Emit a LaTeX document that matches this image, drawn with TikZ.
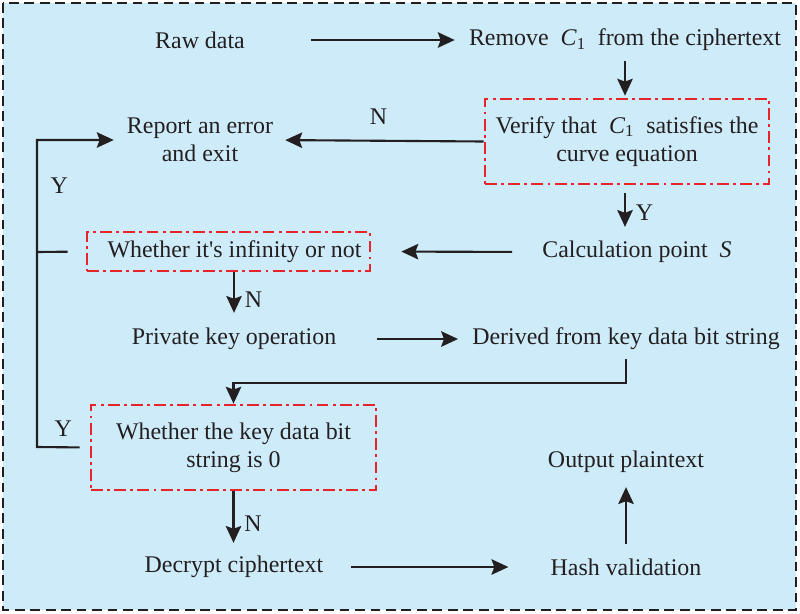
\documentclass[tikz,border=0pt]{standalone}
\usepackage{fontspec}
\setmainfont{Liberation Serif}
\usetikzlibrary{arrows.meta}
\definecolor{bgblue}{HTML}{CDEBF9}
\definecolor{boxred}{HTML}{E8242B}
\definecolor{ink}{HTML}{231F20}
\newcommand{\Cone}{\textit{C}\textsubscript{1}}
\begin{document}
\begin{tikzpicture}[x=0.025cm,y=-0.025cm,
  every node/.style={font=\fontsize{17}{20}\selectfont,text=ink,inner sep=0pt,align=center},
  arr/.style={-{Stealth[length=12pt,width=11pt,inset=2pt]},line width=1.5pt,draw=ink},
  ln/.style={line width=1.5pt,draw=ink},
  chk/.style={draw=boxred,line width=1.9pt,dash pattern=on 8.5pt off 3pt on 2pt off 3pt},
  lab/.style={inner sep=3pt}]
  \useasboundingbox (0,0) rectangle (800,613);
  \draw[fill=bgblue,draw=ink,line width=1.5pt,dash pattern=on 7pt off 4pt] (3,3) rectangle (796,610);

  \node (raw) at (200,40) {Raw data};
  \node (remove) at (625,40) {Remove \ \Cone\ \ from the ciphertext};
  \node[chk,minimum width=7.1cm,minimum height=2.125cm] (verify) at (627,141.5)
    {Verify that \ \Cone\ \ satisfies the\\curve equation};
  \node (report) at (200,140) {Report an error\\and exit};
  \node (calc) at (637,252) {Calculation point \ \textit{S}};
  \node[chk,minimum width=7.075cm,minimum height=0.975cm] (inf) at (228.5,251.5)
    {\hspace*{0.3cm}Whether it\textquotesingle s infinity or not};
  \node (priv) at (234,339) {Private key operation};
  \node (derived) at (626,339) {Derived from key data bit string};
  \node[chk,minimum width=7.125cm,minimum height=2.125cm] (keybox) at (233.5,447.5)
    {Whether the key data bit\\string is 0};
  \node (decrypt) at (234,567) {Decrypt ciphertext};
  \node (hash) at (626,567) {Hash validation};
  \node (output) at (626,462) {Output plaintext};

  \coordinate (busT) at (37,140);
  \coordinate (busM) at (37,252);
  \coordinate (busB) at (37,447);
  \coordinate (turn) at (626,383);

  \draw[arr,shorten <=1.65cm,shorten >=0.35cm] (raw.east) -- (remove.west);
  \draw[arr,shorten <=0.25cm,shorten >=0.05cm] (remove.south) -- (remove.south |- verify.north);
  \draw[arr,shorten >=0.3cm] (verify.west) -- node[lab,above=8pt] {N} (report.east);
  \draw[arr,shorten <=0.2cm,shorten >=0.35cm] (verify.south -| remove.south) -- node[lab,right=4pt] {Y} (remove.south |- calc.north);
  \draw[arr,shorten <=0.75cm,shorten >=0.75cm] (calc.west) -- (inf.east);
  \draw[arr,shorten >=0.375cm] (inf.south -| priv.north) -- node[lab,right=4pt] {N} (priv.north);
  \draw[ln,shorten <=0.45cm] (inf.west) -- (busM);
  \draw[arr,shorten <=0.25cm,shorten >=0.325cm] (keybox.west) -- node[lab,above=4pt] {Y} (busB)
    -- node[lab,pos=0.85,right=6pt] {Y} (busT) -- (report.west);
  \draw[arr,shorten <=1cm,shorten >=0.35cm] (priv.east) -- (derived.west);
  \draw[arr,shorten <=0.225cm] (derived.south) -- (turn) -| (keybox.north);
  \draw[arr,shorten >=0.325cm] (keybox.south) -- node[lab,right=4pt] {N} (keybox.south |- decrypt.north);
  \draw[arr,shorten <=0.675cm,shorten >=1.05cm] (decrypt.east) -- (hash.west);
  \draw[arr,shorten <=0.35cm,shorten >=0.35cm] (hash.north) -- (hash.north |- output.south);
\end{tikzpicture}
\end{document}
